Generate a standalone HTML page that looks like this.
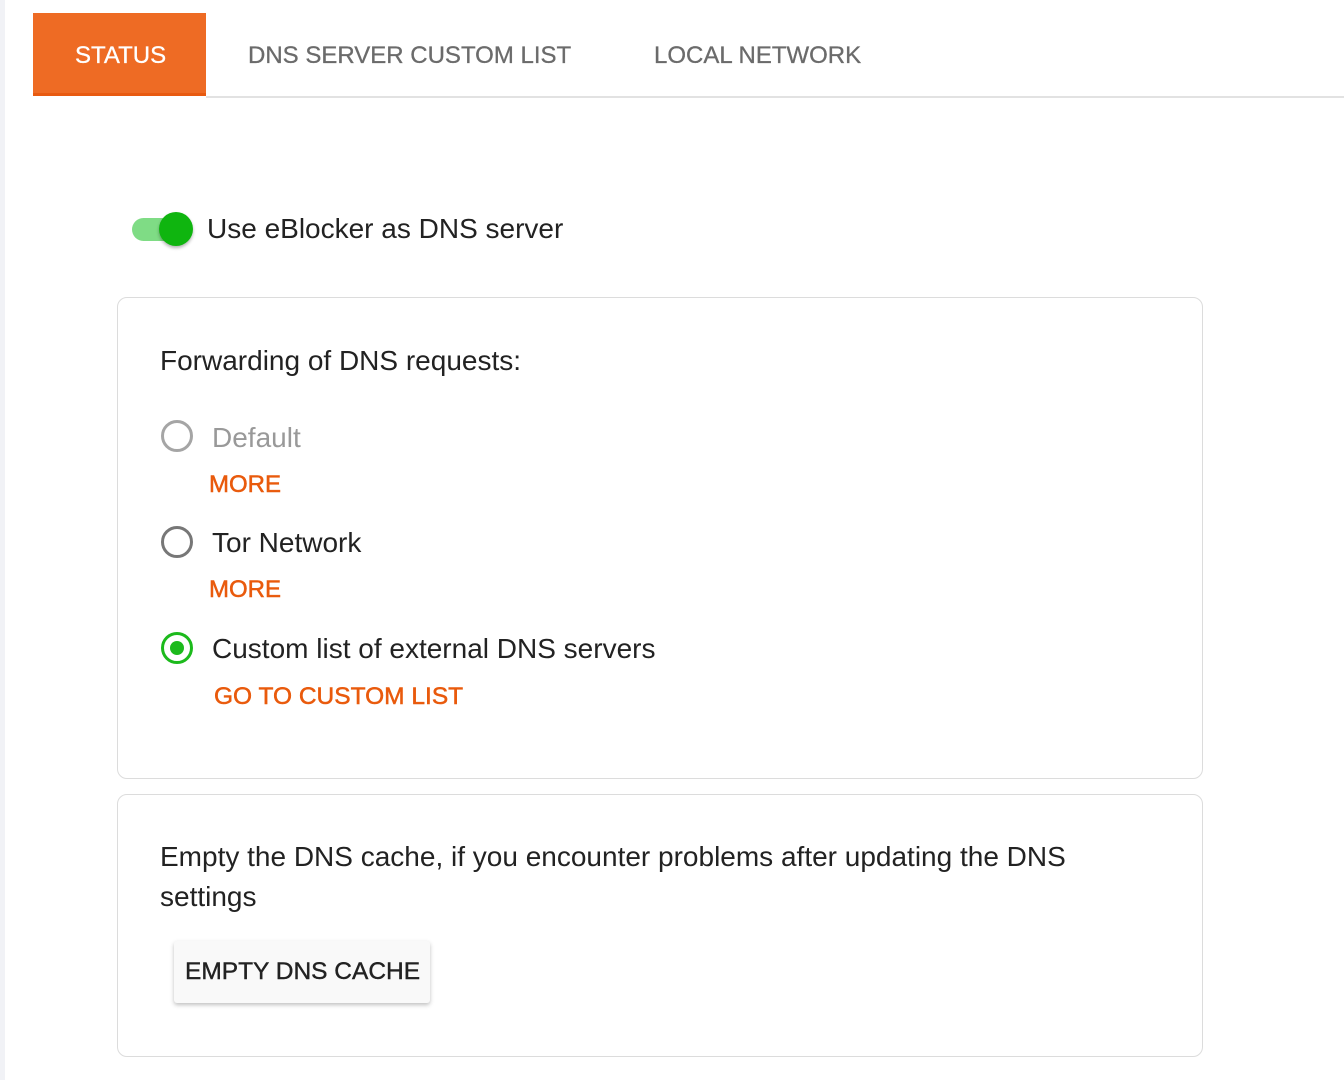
<!DOCTYPE html>
<html><head><meta charset="utf-8"><style>
body{margin:0;width:1344px;height:1080px;background:#fff;position:relative;overflow:hidden;font-family:"Liberation Sans",Arial,sans-serif;}
.a{position:absolute;white-space:nowrap;line-height:1;}
.strip{position:absolute;left:0;top:0;width:5px;height:1080px;background:#f1f2f6;}
.tab{position:absolute;left:33px;top:13px;width:173px;height:80px;background:#ee6b24;border-bottom:3px solid #e85a10;}
.line{position:absolute;left:206px;top:96px;width:1138px;height:2px;background:#e2e2e2;}
.t{font-size:24px;color:#6b6b6b;-webkit-text-stroke:0.3px currentColor;}
.card{position:absolute;left:117px;width:1084px;border:1.5px solid #dcdcdc;border-radius:10px;}
.r{position:absolute;width:32px;height:32px;border-radius:50%;box-sizing:border-box;border:3px solid #777;}
.o{color:#e95a0c;font-size:24px;-webkit-text-stroke:0.5px currentColor;}
.k{color:#222;font-size:28px;}
</style></head><body>
<div class="strip"></div>
<div class="tab"></div>
<div class="line"></div>
<div class="a t" style="left:75px;top:44px;color:#fff">STATUS</div>
<div class="a t" style="left:248px;top:44px">DNS SERVER CUSTOM LIST</div>
<div class="a t" style="left:654px;top:44px">LOCAL NETWORK</div>

<div style="position:absolute;left:132px;top:218px;width:56px;height:23px;border-radius:12px;background:#7fdc85"></div>
<div style="position:absolute;left:159px;top:212px;width:34px;height:34px;border-radius:50%;background:#0fb50f;box-shadow:0 2px 3px rgba(0,0,0,.3)"></div>
<div class="a k" style="left:207px;top:215px;font-size:28px">Use eBlocker as DNS server</div>

<div class="card" style="top:297px;height:480px"></div>
<div class="a k" style="left:160px;top:347px">Forwarding of DNS requests:</div>
<div class="r" style="left:161px;top:420px;border-color:#a5a5a5"></div>
<div class="a k" style="left:212px;top:424px;color:#999">Default</div>
<div class="a o" style="left:209px;top:473px">MORE</div>
<div class="r" style="left:161px;top:526px"></div>
<div class="a k" style="left:212px;top:529px">Tor Network</div>
<div class="a o" style="left:209px;top:578px">MORE</div>
<div class="r" style="left:161px;top:632px;border-color:#1cba1c"></div>
<div style="position:absolute;left:170px;top:641px;width:14px;height:14px;border-radius:50%;background:#1cba1c"></div>
<div class="a k" style="left:212px;top:635px">Custom list of external DNS servers</div>
<div class="a o" style="left:214px;top:685px;font-size:24.5px">GO TO CUSTOM LIST</div>

<div class="card" style="top:794px;height:261px"></div>
<div class="a k" style="left:160px;top:843px">Empty the DNS cache, if you encounter problems after updating the DNS</div>
<div class="a k" style="left:160px;top:883px">settings</div>
<div style="position:absolute;left:174px;top:941px;width:256px;height:62px;background:#f9f9f9;border-radius:3px;box-shadow:0 2px 4px rgba(0,0,0,.25)"></div>
<div class="a" style="left:185px;top:960px;font-size:24.5px;color:#222;-webkit-text-stroke:0.4px #222">EMPTY DNS CACHE</div>
</body></html>
